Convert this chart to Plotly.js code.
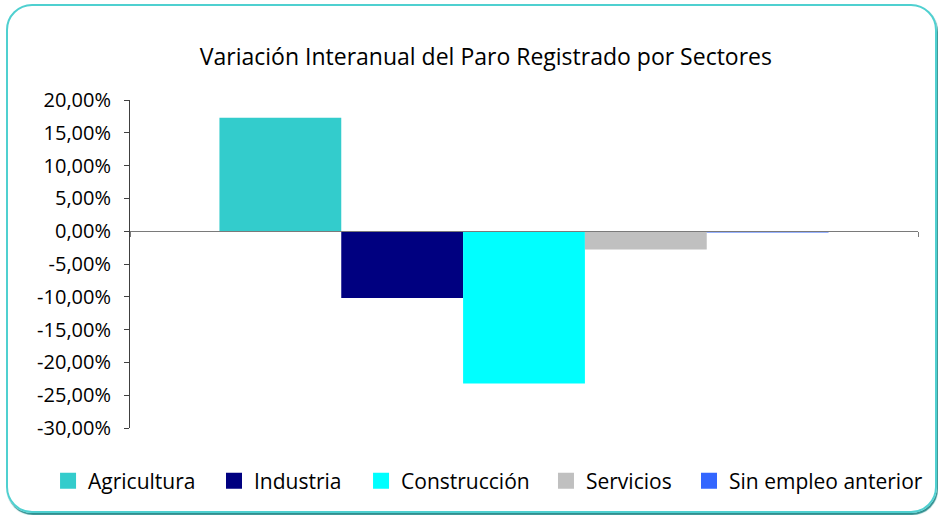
<!DOCTYPE html>
<html>
<head>
<meta charset="utf-8">
<script src="https://cdn.plot.ly/plotly-3.0.1.min.js"></script>
<style>
  html, body { margin:0; padding:0; background:#fff; }
  #wrap { position:relative; width:938px; height:515px; }
  #chart { position:absolute; left:0; top:0; width:938px; height:515px; }
  #frame { position:absolute; left:6px; top:4px; width:927px; height:505px;
           border:2px solid #4fd0d0; border-radius:26px;
           box-shadow:1px 2px 1px #2f8f8f; pointer-events:none; }
</style>
</head>
<body>
<div id="wrap">
  <div id="chart"></div>
  <div id="frame"></div>
</div>
<script>
const chartTitle = "Variación Interanual del Paro Registrado por Sectores";
const category = [""];
const seriesNames = ["Agricultura", "Industria", "Construcción", "Servicios", "Sin empleo anterior"];
const seriesValues = [17.3, -10.2, -23.2, -2.8, -0.2];
const seriesColors = ["#33CCCC", "#000080", "#00FFFF", "#C0C0C0", "#3366FF"];
const tickVals = [20, 15, 10, 5, 0, -5, -10, -15, -20, -25, -30];
const tickText = ["20,00%", "15,00%", "10,00%", "5,00%", "0,00%", "-5,00%", "-10,00%", "-15,00%", "-20,00%", "-25,00%", "-30,00%"];

const FONT = "Open Sans, Lato, Noto Sans, sans-serif";
// legend box left positions (paper fraction), one legend per series
const legendX = [-0.104, 0.1066, 0.2932, 0.5279, 0.7094];

const barTraces = seriesNames.map((name, i) => ({
  type: "bar",
  name: name,
  x: category,
  y: [seriesValues[i]],
  marker: { color: seriesColors[i], line: { width: 0 } },
  showlegend: false,
  legendgroup: name
}));

const legendIds = seriesNames.map((n, i) => (i === 0 ? "legend" : "legend" + (i + 1)));

// legend entries (square keys, no data drawn)
const legendTraces = seriesNames.map((name, i) => ({
  type: "scatter",
  mode: "markers",
  name: name,
  x: category,
  y: [null],
  marker: { symbol: "square", size: 16, color: seriesColors[i], line: { width: 0 } },
  showlegend: true,
  legend: legendIds[i],
  legendgroup: name,
  hoverinfo: "skip"
}));

const layout = {
  width: 938, height: 515,
  margin: { l: 130, r: 20, t: 100, b: 87, autoexpand: false },
  paper_bgcolor: "rgba(0,0,0,0)",
  plot_bgcolor: "rgba(0,0,0,0)",
  font: { family: FONT, color: "#000" },
  title: {
    text: chartTitle,
    font: { family: FONT, size: 23, color: "#000" },
    xref: "container", x: 0.518, xanchor: "center",
    yref: "container", y: 1 - 57 / 515, yanchor: "middle"
  },
  barmode: "group",
  bargap: 0.227,
  bargroupgap: 0,
  showlegend: true,
  xaxis: {
    type: "category",
    anchor: "free", position: 0.6,
    showline: true, linecolor: "#7a7a7a", linewidth: 1,
    ticks: "outside", tickson: "boundaries", ticklen: 5, tickcolor: "#7a7a7a",
    showticklabels: false, showgrid: false, zeroline: false,
    fixedrange: true
  },
  yaxis: {
    range: [-30, 20],
    tickvals: tickVals, ticktext: tickText,
    showline: true, linecolor: "#404040", linewidth: 1,
    ticks: "outside", ticklen: 5, tickcolor: "#404040",
    ticklabelstandoff: 9,
    tickfont: { family: FONT, size: 20, color: "#000" },
    showgrid: false, zeroline: false,
    fixedrange: true
  }
};

legendIds.forEach((id, i) => {
  layout[id] = {
    orientation: "h",
    xref: "paper", x: legendX[i], xanchor: "left",
    yref: "paper", y: -0.1616, yanchor: "middle",
    font: { family: FONT, size: 21, color: "#000" },
    bgcolor: "rgba(0,0,0,0)",
    itemsizing: "trace"
  };
});

Plotly.newPlot("chart", barTraces.concat(legendTraces), layout, { displayModeBar: false, staticPlot: true });
</script>
</body>
</html>
